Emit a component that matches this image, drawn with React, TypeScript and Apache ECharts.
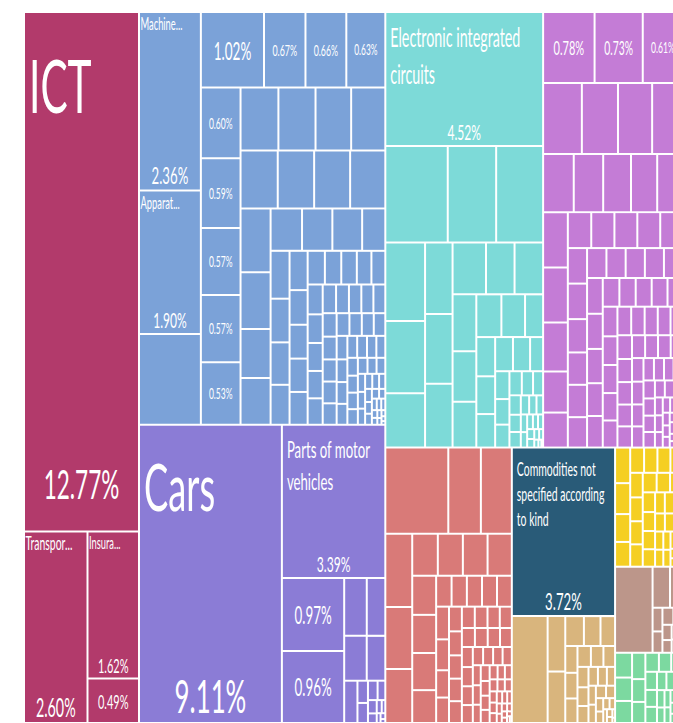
import React, { useEffect, useRef } from "react";
import * as echarts from "echarts";

// ---------- export shares, % of total ----------
const SERVICES: [string, number][] = [
  ["ICT", 12.77],
  ["Transport", 2.6],
  ["Insurance and finance", 1.62],
  ["Travel and tourism", 0.49],
];

const MACHINERY: [string, number][] = [
  ["Machines with individual functions", 2.36],
  ["Apparatus for switching electrical circuits", 1.9],
  ["Electric motors and generators", 1.2],
  ["Taps, cocks and valves", 1.02],
  ["Pumps for liquids", 0.67],
  ["Air and vacuum pumps", 0.66],
  ["Electrical transformers", 0.63],
  ["Transmission shafts", 0.6],
  ["Machine tools for working metal", 0.59],
  ["Ball and roller bearings", 0.57],
  ["Lifting and loading machinery", 0.57],
  ["Centrifuges and filters", 0.53],
];
const MACHINERY_REST = [
  0.51, 0.5, 0.48, 0.46, 0.46, 0.45, 0.445, 0.435, 0.41, 0.365, 0.314, 0.301,
  0.285, 0.275, 0.27, 0.21, 0.194, 0.177, 0.172, 0.162, 0.152, 0.134, 0.131,
  0.129, 0.127, 0.124, 0.118, 0.112, 0.105, 0.1, 0.096, 0.092, 0.09, 0.088,
  0.085, 0.082, 0.079, 0.076, 0.074, 0.073, 0.07, 0.068, 0.066, 0.065, 0.064,
  0.062, 0.06, 0.058, 0.056, 0.054, 0.052, 0.05, 0.048, 0.046, 0.046, 0.044,
  0.042, 0.04, 0.038, 0.037, 0.035, 0.033, 0.031, 0.03, 0.028, 0.026, 0.025,
  0.023, 0.022, 0.02, 0.019, 0.017, 0.016, 0.015, 0.013, 0.012, 0.011, 0.01,
  0.009, 0.008, 0.007, 0.006, 0.005, 0.004, 0.003,
];

const VEHICLES: [string, number][] = [
  ["Cars", 9.11],
  ["Parts of motor vehicles", 3.39],
  ["Delivery trucks", 0.97],
  ["Tractors", 0.96],
];
const VEHICLES_REST = [
  0.279, 0.229, 0.216, 0.178, 0.12, 0.05, 0.045, 0.04, 0.032, 0.025, 0.018,
  0.014, 0.01, 0.008, 0.006, 0.004,
];

const ELECTRONICS: [string, number][] = [["Electronic integrated circuits", 4.52]];
const ELECTRONICS_REST = [
  1.29, 1.0, 0.97, 0.666, 0.615, 0.461, 0.42, 0.41, 0.375, 0.37, 0.316, 0.316,
  0.289, 0.256, 0.233, 0.229, 0.216, 0.165, 0.158, 0.152, 0.135, 0.13, 0.125,
  0.095, 0.085, 0.078, 0.07, 0.064, 0.058, 0.052, 0.047, 0.042, 0.038, 0.034,
  0.03, 0.027, 0.024, 0.021, 0.018, 0.016, 0.016, 0.015, 0.013, 0.011, 0.009,
  0.007, 0.005, 0.003,
];

const CHEMICALS: [string, number][] = [
  ["Packaged medicaments", 0.78],
  ["Plastic articles", 0.73],
  ["Polymers of propylene", 0.61],
];
const CHEMICALS_REST = [
  0.59, 0.55, 0.52, 0.47, 0.38, 0.365, 0.345, 0.325, 0.32, 0.293, 0.29, 0.259,
  0.217, 0.185, 0.18, 0.178, 0.176, 0.176, 0.175, 0.146, 0.146, 0.137, 0.133,
  0.133, 0.125, 0.124, 0.123, 0.123, 0.122, 0.122, 0.12, 0.118, 0.115, 0.11,
  0.106, 0.102, 0.1, 0.098, 0.097, 0.095, 0.093, 0.09, 0.088, 0.086, 0.085,
  0.084, 0.082, 0.08, 0.078, 0.076, 0.074, 0.072, 0.07, 0.068, 0.066, 0.064,
  0.063, 0.062, 0.06, 0.058, 0.056, 0.054, 0.052, 0.05, 0.048, 0.046, 0.045,
  0.044, 0.042, 0.04, 0.038, 0.036, 0.034, 0.032, 0.03, 0.028, 0.026, 0.024,
  0.022, 0.02, 0.019, 0.017, 0.016, 0.014, 0.013, 0.012, 0.011, 0.01, 0.009,
  0.008, 0.007, 0.006, 0.005, 0.004,
];

const METALS_REST = [
  1.16, 0.6, 0.57, 0.421, 0.357, 0.311, 0.23, 0.225, 0.222, 0.218, 0.2, 0.195,
  0.19, 0.168, 0.102, 0.101, 0.1, 0.099, 0.098, 0.09, 0.085, 0.075, 0.07,
  0.068, 0.066, 0.064, 0.062, 0.06, 0.059, 0.058, 0.056, 0.055, 0.053, 0.052,
  0.05, 0.048, 0.047, 0.045, 0.044, 0.042, 0.04, 0.039, 0.037, 0.036, 0.034,
  0.033, 0.031, 0.03, 0.028, 0.027, 0.025, 0.024, 0.022, 0.021, 0.02, 0.019,
  0.018, 0.017, 0.016, 0.015, 0.014, 0.013, 0.012, 0.011, 0.01, 0.009, 0.008,
  0.007, 0.006, 0.005, 0.004, 0.003,
];

const OTHER: [string, number][] = [["Commodities not specified according to kind", 3.72]];

const STONE_REST = [
  0.818, 0.209, 0.194, 0.119, 0.106, 0.093, 0.07, 0.067, 0.064, 0.06, 0.056,
  0.052, 0.048, 0.044, 0.04, 0.038, 0.036, 0.033, 0.03, 0.029, 0.027, 0.024,
  0.021, 0.018, 0.015, 0.013, 0.011, 0.009, 0.007, 0.005, 0.003,
];
const AGRICULTURE_REST = [
  0.115, 0.1, 0.09, 0.08, 0.075, 0.072, 0.07, 0.068, 0.066, 0.064, 0.062, 0.06,
  0.058, 0.056, 0.054, 0.052, 0.05, 0.048, 0.046, 0.044, 0.042, 0.04, 0.038,
  0.036, 0.034, 0.032, 0.03, 0.028, 0.026, 0.024, 0.022, 0.018, 0.016, 0.014,
];
const MINERALS_REST = [
  0.69, 0.153, 0.114, 0.05, 0.045, 0.04, 0.035, 0.03, 0.025, 0.02, 0.016,
  0.012, 0.009, 0.006, 0.005,
];
const TEXTILES_REST = [
  0.09, 0.085, 0.08, 0.075, 0.065, 0.06, 0.055, 0.05, 0.048, 0.045, 0.042,
  0.04, 0.037, 0.034, 0.031, 0.028, 0.025, 0.022, 0.02, 0.018, 0.016, 0.014,
  0.012, 0.01, 0.008, 0.006, 0.004,
];

const COLORS = {
  services: "#B23A6B",
  machinery: "#7BA2D8",
  vehicles: "#8B7CD6",
  electronics: "#7DDAD8",
  chemicals: "#C47CD6",
  metals: "#D97A78",
  other: "#295B78",
  stone: "#D9B57D",
  agriculture: "#F5CF23",
  minerals: "#BC968A",
  textiles: "#7CD9A0",
};

// ---------- label styling ----------
const FONT = "Lato, 'Open Sans', sans-serif";
const SQUEEZE = 0.55; // horizontal squeeze of label glyphs

// top = distance from the box top to the first line's cap top
const TITLES: Record<string, { text: string; size: number; top: number; line?: number }> = {
  ICT: { text: "ICT", size: 74, top: 48 },
  Transport: { text: "Transpor...", size: 19, top: 5 },
  "Insurance and finance": { text: "Insura...", size: 17, top: 5 },
  "Machines with individual functions": { text: "Machine...", size: 17, top: 6 },
  "Apparatus for switching electrical circuits": { text: "Apparat...", size: 17, top: 6 },
  Cars: { text: "Cars", size: 66, top: 38 },
  "Parts of motor vehicles": { text: "Parts of motor\nvehicles", size: 24, top: 16, line: 32 },
  "Electronic integrated circuits": {
    text: "Electronic integrated\ncircuits",
    size: 26,
    top: 16,
    line: 37,
  },
  "Commodities not specified according to kind": {
    text: "Commodities not\nspecified according\nto kind",
    size: 19,
    top: 15,
    line: 25,
  },
};
const SHARE_SIZES: Record<string, number> = {
  ICT: 41,
  Transport: 26,
  "Insurance and finance": 20,
  "Machines with individual functions": 24,
  "Apparatus for switching electrical circuits": 22,
  Cars: 47,
  "Parts of motor vehicles": 22,
  "Electronic integrated circuits": 22,
  "Commodities not specified according to kind": 24,
};
const SHARE_LIFT: Record<string, number> = { ICT: 27, Cars: 4 };
const SHARE_ONLY = new Set([
  "Travel and tourism",
  "Taps, cocks and valves",
  "Pumps for liquids",
  "Air and vacuum pumps",
  "Electrical transformers",
  "Transmission shafts",
  "Machine tools for working metal",
  "Ball and roller bearings",
  "Lifting and loading machinery",
  "Centrifuges and filters",
  "Delivery trucks",
  "Tractors",
  "Packaged medicaments",
  "Plastic articles",
  "Polymers of propylene",
]);

// ---------- hierarchy + squarified layout ----------
type TNode = {
  name: string;
  value: number;
  color: string;
  children?: TNode[];
  x0: number;
  y0: number;
  x1: number;
  y1: number;
};

const leafNode = (name: string, value: number, color: string): TNode => ({
  name, value, color, x0: 0, y0: 0, x1: 0, y1: 0,
});

const groupNode = (name: string, color: string, children: TNode[]): TNode => ({
  name,
  color,
  children,
  value: children.reduce((s, c) => s + c.value, 0),
  x0: 0, y0: 0, x1: 0, y1: 0,
});

function sector(name: string, color: string, named: [string, number][], rest: number[]): TNode {
  const kids = [
    ...named.map(([n, v]) => leafNode(n, v, color)),
    ...rest.map((v) => leafNode("", v, color)),
  ].sort((a, b) => b.value - a.value);
  return groupNode(name, color, kids);
}

// squarify, aspect ratio 1
function squarify(nodes: TNode[], x0: number, y0: number, x1: number, y1: number) {
  let value = nodes.reduce((s, n) => s + n.value, 0);
  const n = nodes.length;
  let i0 = 0;
  let i1 = 0;
  while (i0 < n) {
    const dx = x1 - x0;
    const dy = y1 - y0;
    let sumValue = 0;
    do sumValue = nodes[i1++].value; while (!sumValue && i1 < n);
    let minValue = sumValue;
    let maxValue = sumValue;
    const alpha = Math.max(dy / dx, dx / dy) / value;
    let beta = sumValue * sumValue * alpha;
    let minRatio = Math.max(maxValue / beta, beta / minValue);
    for (; i1 < n; ++i1) {
      const nv = nodes[i1].value;
      sumValue += nv;
      if (nv < minValue) minValue = nv;
      if (nv > maxValue) maxValue = nv;
      beta = sumValue * sumValue * alpha;
      const newRatio = Math.max(maxValue / beta, beta / minValue);
      if (newRatio > minRatio) {
        sumValue -= nv;
        break;
      }
      minRatio = newRatio;
    }
    const row = nodes.slice(i0, i1);
    if (dx < dy) {
      const yk = value ? y0 + (dy * sumValue) / value : y1;
      const k = (x1 - x0) / sumValue;
      let x = x0;
      row.forEach((nd) => {
        nd.x0 = x;
        x += nd.value * k;
        nd.x1 = x;
        nd.y0 = y0;
        nd.y1 = yk;
      });
      y0 = yk;
    } else {
      const xk = value ? x0 + (dx * sumValue) / value : x1;
      const k = (y1 - y0) / sumValue;
      let y = y0;
      row.forEach((nd) => {
        nd.y0 = y;
        y += nd.value * k;
        nd.y1 = y;
        nd.x0 = x0;
        nd.x1 = xk;
      });
      x0 = xk;
    }
    value -= sumValue;
    i0 = i1;
  }
}

function layoutTree(node: TNode) {
  if (!node.children) return;
  squarify(node.children, node.x0, node.y0, node.x1, node.y1);
  node.children.forEach(layoutTree);
}

// width : height of the layout space (the axes map it onto the plot area)
const LAYOUT_ASPECT = 1.73;

function buildLeaves(): TNode[] {
  const services = sector("Services", COLORS.services, SERVICES, []);
  const goods = groupNode(
    "Goods",
    "#fff",
    [
      sector("Machinery", COLORS.machinery, MACHINERY, MACHINERY_REST),
      sector("Vehicles", COLORS.vehicles, VEHICLES, VEHICLES_REST),
      sector("Electronics", COLORS.electronics, ELECTRONICS, ELECTRONICS_REST),
      sector("Chemicals", COLORS.chemicals, CHEMICALS, CHEMICALS_REST),
      sector("Metals", COLORS.metals, [], METALS_REST),
      sector("Other", COLORS.other, OTHER, []),
      sector("Stone", COLORS.stone, [], STONE_REST),
      sector("Agriculture", COLORS.agriculture, [], AGRICULTURE_REST),
      sector("Minerals", COLORS.minerals, [], MINERALS_REST),
      sector("Textiles", COLORS.textiles, [], TEXTILES_REST),
    ].sort((a, b) => b.value - a.value)
  );
  const root = groupNode("root", "#fff", [services, goods]);
  root.x0 = 0;
  root.y0 = 0;
  root.x1 = LAYOUT_ASPECT;
  root.y1 = 1;
  layoutTree(root);
  const out: TNode[] = [];
  const walk = (nd: TNode) => {
    if (nd.children) nd.children.forEach(walk);
    else out.push(nd);
  };
  walk(root);
  return out;
}

const LEAVES = buildLeaves();

function label(
  str: string, x: number, y: number, size: number,
  align: string, vAlign: string, lineHeight?: number
) {
  return {
    type: "text",
    x,
    y,
    scaleX: SQUEEZE,
    silent: true,
    style: {
      text: str,
      fill: "#ffffff",
      fontSize: size,
      fontFamily: FONT,
      align,
      verticalAlign: vAlign,
      textAlign: align,
      textVerticalAlign: vAlign,
      lineHeight: lineHeight ?? size,
    },
  };
}

function renderLeaf(params: any, api: any) {
  const leaf = LEAVES[params.dataIndex];
  const p0 = api.coord([api.value(0), api.value(1)]);
  const p1 = api.coord([api.value(2), api.value(3)]);
  const x = p0[0];
  const y = p0[1];
  const w = p1[0] - x;
  const h = p1[1] - y;
  const children: any[] = [];
  if (w > 2 && h > 2) {
    children.push({
      type: "rect",
      shape: { x: x + 1, y: y + 1, width: w - 2, height: h - 2 },
      style: { fill: leaf.color },
    });
  }
  const share = leaf.value.toFixed(2) + "%";
  const title = TITLES[leaf.name];
  if (title) {
    const F = title.size;
    const L = title.line ?? F;
    const ty = y + title.top - (L / 2 - 0.33 * F);
    const tx = x + (F < 20 && !title.line ? 1.5 : 5);
    children.push(label(title.text, tx, ty, F, "left", "top", L));
    const S = SHARE_SIZES[leaf.name];
    const gap = 6 + (SHARE_LIFT[leaf.name] ?? 0);
    children.push(label(share, x + w / 2, y + h - gap + 0.113 * S, S, "center", "bottom"));
  } else if (SHARE_ONLY.has(leaf.name)) {
    const S = Math.min(0.39 * w, 0.45 * h);
    children.push(label(share, x + w / 2, y + h / 2, S, "center", "middle"));
  }
  return { type: "group", children };
}

export default function App() {
  const ref = useRef<HTMLDivElement>(null);
  useEffect(() => {
    if (!ref.current) return;
    const chart = echarts.init(ref.current, undefined, { renderer: "svg" });
    chart.setOption({
      animation: false,
      backgroundColor: "#ffffff",
      grid: { left: 24, top: 12, width: 659, height: 711 },
      xAxis: { type: "value", min: 0, max: LAYOUT_ASPECT, show: false },
      yAxis: { type: "value", min: 0, max: 1, inverse: true, show: false },
      series: [
        {
          type: "custom",
          coordinateSystem: "cartesian2d",
          clip: false,
          encode: { x: [0, 2], y: [1, 3] },
          data: LEAVES.map((l) => [l.x0, l.y0, l.x1, l.y1, l.value]),
          renderItem: renderLeaf,
        },
      ],
    });
    return () => chart.dispose();
  }, []);
  return (
    <div
      style={{
        position: "fixed",
        left: 0,
        top: 0,
        width: 673,
        height: 723,
        overflow: "hidden",
        background: "#ffffff",
      }}
    >
      <div ref={ref} style={{ width: 700, height: 723 }} />
    </div>
  );
}
